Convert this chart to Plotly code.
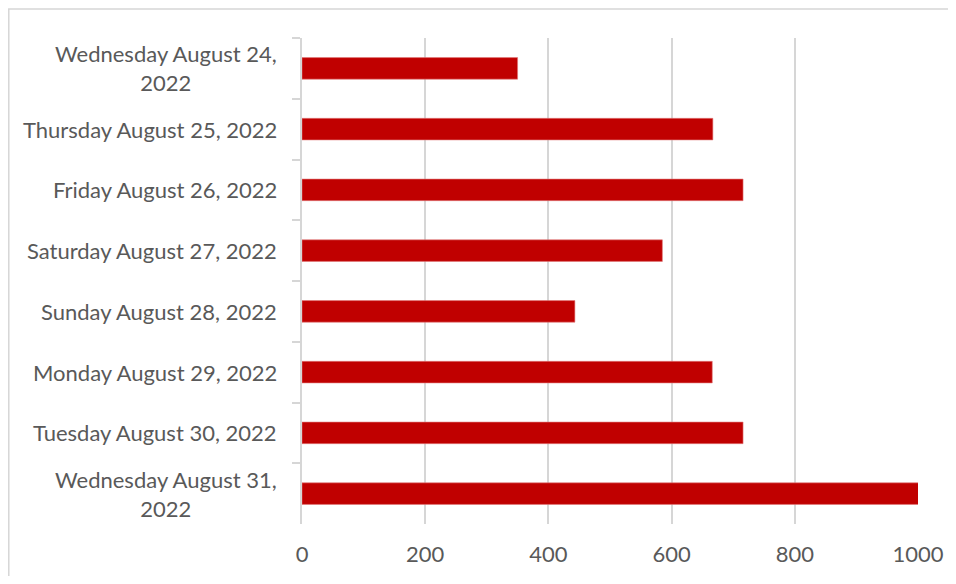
import plotly.graph_objects as go

categories = [
    "Wednesday August 24,<br>2022",
    "Thursday August 25, 2022",
    "Friday August 26, 2022",
    "Saturday August 27, 2022",
    "Sunday August 28, 2022",
    "Monday August 29, 2022",
    "Tuesday August 30, 2022",
    "Wednesday August 31,<br>2022",
]
values = [350, 667, 716, 585, 443, 666, 716, 1003]
x_ticks = [0, 200, 400, 600, 800, 1000]

FONT = "Lato"
TXT = "#595959"
GRID = "#D6D6D6"

fig = go.Figure()
fig.add_trace(go.Bar(
    x=values, y=categories, orientation="h",
    marker=dict(color="#C00000", line=dict(color="#E27A7A", width=0.6)),
    cliponaxis=False, hoverinfo="x+y",
))

for c in categories:
    fig.add_annotation(
        x=0, xref="paper", y=c, yref="y", text=c, showarrow=False,
        xanchor="right", yanchor="middle", align="center", xshift=-23,
        font=dict(family=FONT, size=22, color=TXT),
    )

fig.update_layout(
    width=940, height=568,
    margin=dict(l=294, r=30, t=30, b=52, pad=0, autoexpand=False),
    paper_bgcolor="white", plot_bgcolor="white",
    bargap=0.645, showlegend=False,
    font=dict(family=FONT, size=22, color=TXT),
    shapes=[dict(type="rect", xref="paper", yref="paper",
                 x0=-0.4760, x1=1.3, y0=-0.4, y1=1.0597,
                 line=dict(color=GRID, width=1.5), fillcolor="rgba(0,0,0,0)",
                 layer="below")],
)
fig.update_xaxes(
    range=[0, 1000], tickvals=x_ticks, showgrid=True, gridcolor=GRID, gridwidth=1.5,
    zeroline=False, showline=False, ticks="", ticklabelstandoff=15, automargin=False,
    tickfont=dict(family=FONT, size=22, color=TXT), fixedrange=True,
)
fig.update_yaxes(
    autorange="reversed", showticklabels=False, showline=True, linecolor=GRID, linewidth=1.5,
    ticks="outside", ticklen=8, tickcolor=GRID, tickwidth=1.5, tickson="boundaries",
    showgrid=False, fixedrange=True, automargin=False,
)
fig.write_html("out.html")
